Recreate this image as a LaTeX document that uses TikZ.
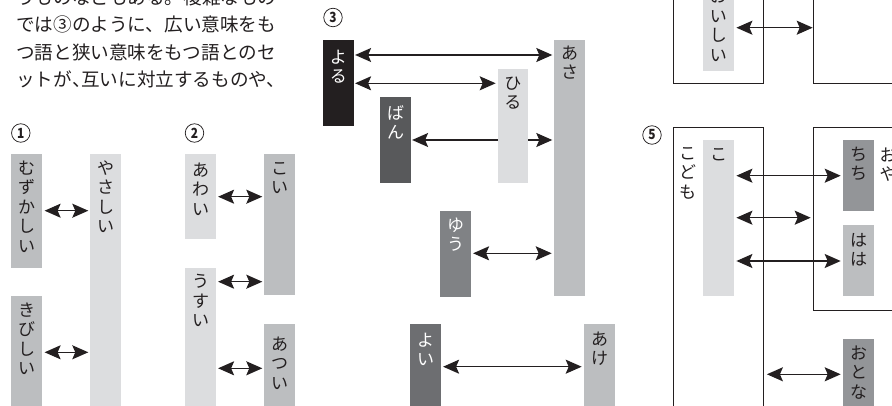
\documentclass[tikz,border=0pt]{standalone}
\usepackage{fontspec}
\setmainfont{Noto Sans CJK JP}
\usepackage{graphicx}
\usetikzlibrary{arrows.meta}
\definecolor{ink}{HTML}{231F20}
\definecolor{med}{HTML}{BCBEC0}
\definecolor{lite}{HTML}{DCDDDF}
\definecolor{dk1}{HTML}{58595B}
\definecolor{dk2}{HTML}{808285}
\definecolor{dk3}{HTML}{6D6E71}
\definecolor{dk4}{HTML}{939598}
\newcommand\vs{\rule{0pt}{15pt}}
\tikzset{
  wbox/.style={rectangle, draw=none, inner sep=0pt, anchor=north west, minimum width=30.7pt, minimum height=#1},
  vt/.style={font=\fontsize{17}{19.5}\selectfont, align=center, inner sep=0pt, anchor=north},
  tip/.tip={Stealth[length=16pt,width=14pt,inset=3pt]},
  dbl/.style={tip-tip, line width=1.4pt, draw=ink},
  frm/.style={draw=ink, line width=0.9pt},
  num/.style={circle, draw=ink, line width=0.75pt, minimum size=18.5pt, inner sep=0pt, text=ink, font=\fontsize{14}{14}\bfseries},
  body/.style={font=\fontsize{18.6}{20}\selectfont, inner sep=0pt, anchor=base west, text=ink},
}
\begin{document}
\begin{tikzpicture}[x=1pt,y=-1pt]
\useasboundingbox (0,0) rectangle (892,406);
\clip (0,0) rectangle (892,406);
\fill[white] (0,0) rectangle (892,406);

% body text
\node[body] (l1) at (16,4.6) {うものなどもある。複雑なもの};
\node[body] (l2) at (16,32) {では③のように、広い意味をも};
\node[body] (l3) at (16,59.3) {つ語と狭い意味をもつ語とのセ};
\node[body] (l4) at (16,86.6) {ットが\makebox[9.3pt][l]{、}互いに対立するものや、};

% numbers
\node[num] (n1) at (20.8,133) {\scalebox{0.85}[1]{1}};
\node[num] (n2) at (194.5,133) {\scalebox{0.85}[1]{2}};
\node[num] (n3) at (333,17.5) {\scalebox{0.85}[1]{3}};
\node[num] (n5) at (652,135) {\scalebox{0.85}[1]{5}};

% ---------- 1
\node[wbox=113.7pt, fill=med] (muzu) at (11,154) {};
\node[wbox=260pt, fill=lite] (yasa) at (90,154) {};
\node[wbox=120pt, fill=med] (kibi) at (11,296) {};
\node[vt, text=ink] (muzu-t) at ([yshift=-5pt]muzu.north) {\vs む\\ず\\か\\し\\い};
\node[vt, text=ink] (yasa-t) at ([yshift=-5pt]yasa.north) {\vs や\\さ\\し\\い};
\node[vt, text=ink] (kibi-t) at ([yshift=-5pt]kibi.north) {\vs き\\び\\し\\い};
\draw[dbl, shorten <=2.5pt, shorten >=1.7pt] (muzu.east |- 0,210.7) -- (yasa.west |- 0,210.7);
\draw[dbl, shorten <=2.5pt, shorten >=1.7pt] (kibi.east |- 0,352.3) -- (yasa.west |- 0,352.3);

% ---------- 2
\node[wbox=85.3pt, fill=lite] (awai) at (185,154) {};
\node[wbox=141.3pt, fill=med] (koi) at (264,154) {};
\node[wbox=140pt, fill=lite] (usui) at (185,268.3) {};
\node[wbox=90pt, fill=med] (atsui) at (264,324) {};
\node[vt, text=ink] (awai-t) at ([yshift=-7pt]awai.north) {\vs あ\\わ\\い};
\node[vt, text=ink] (koi-t) at ([yshift=-5pt]koi.north) {\vs こ\\い};
\node[vt, text=ink] (usui-t) at ([yshift=-4pt]usui.north) {\vs う\\す\\い};
\node[vt, text=ink] (atsui-t) at ([yshift=-11pt]atsui.north) {\vs あ\\つ\\い};
\draw[dbl, shorten <=2pt, shorten >=1.7pt] (awai.east |- 0,196.7) -- (koi.west |- 0,196.7);
\draw[dbl, shorten <=2pt, shorten >=1.7pt] (usui.east |- 0,281.7) -- (koi.west |- 0,281.7);
\draw[dbl, shorten <=2pt, shorten >=1.7pt] (usui.east |- 0,368.3) -- (atsui.west |- 0,368.3);

% ---------- 3
\node[wbox=85.7pt, fill=ink] (yoru) at (322.7,40) {};
\node[wbox=256pt, fill=med] (asa) at (554,40) {};
\node[wbox=85.4pt, fill=dk1] (ban) at (380,97.3) {};
\node[wbox=85.7pt, fill=dk2] (yuu) at (440,211) {};
\node[wbox=90pt, fill=dk3] (yoi) at (410,324) {};
\node[wbox=90pt, fill=med] (ake) at (584,324) {};
\draw[dbl, shorten <=1pt, shorten >=1.7pt] (ban.east |- 0,140) -- (asa.west |- 0,140);
\node[wbox=113.7pt, fill=lite] (hiru) at (497.3,69) {};
\node[vt, text=white] (yoru-t) at ([yshift=-8pt]yoru.north) {\vs よ\\る};
\node[vt, text=ink] (asa-t) at ([yshift=-4pt]asa.north) {\vs あ\\さ};
\node[vt, text=ink] (hiru-t) at ([yshift=-5pt]hiru.north) {\vs ひ\\る};
\node[vt, text=white] (ban-t) at ([yshift=-7pt]ban.north) {\vs ば\\ん};
\node[vt, text=white] (yuu-t) at ([yshift=-5pt]yuu.north) {\vs ゆ\\う};
\node[vt, text=white] (yoi-t) at ([yshift=-7pt]yoi.north) {\vs よ\\い};
\node[vt, text=ink] (ake-t) at ([yshift=-6pt]ake.north) {\vs あ\\け};
\draw[dbl, shorten <=1.3pt, shorten >=1.7pt] (yoru.east |- 0,55) -- (asa.west |- 0,55);
\draw[dbl, shorten <=1.3pt, shorten >=1.6pt] (yoru.east |- 0,83.3) -- (hiru.west |- 0,83.3);
\draw[dbl, shorten <=2pt, shorten >=2.3pt] (yuu.east |- 0,253.3) -- (asa.west |- 0,253.3);
\draw[dbl, shorten <=2pt, shorten >=2.3pt] (yoi.east |- 0,366.7) -- (ake.west |- 0,366.7);

% ---------- 4
\node[rectangle, frm, inner sep=0pt, anchor=north west, minimum width=90pt, minimum height=93.3pt] (f4l) at (673.3,-10) {};
\node[rectangle, frm, inner sep=0pt, anchor=north west, minimum width=100pt, minimum height=93.3pt] (f4r) at (812.7,-10) {};
\node[wbox=90.7pt, fill=lite] (oishii) at (703,-20) {};
\node[vt, text=ink] (oishii-t) at (718.35,-12.5) {\vs お\\い\\し\\い};
\draw[dbl, shorten <=2.3pt, shorten >=0pt] (oishii.east |- 0,27.7) -- (f4r.west |- 0,27.7);

% ---------- 5
\node[rectangle, frm, inner sep=0pt, anchor=north west, minimum width=90pt, minimum height=300pt] (f5l) at (673.3,126.7) {};
\node[rectangle, frm, inner sep=0pt, anchor=north west, minimum width=100pt, minimum height=183.3pt] (f5r) at (812.7,126.7) {};
\node[vt, text=ink] (kodomo) at (687.5,144) {\vs こ\\ど\\も};
\node[vt, text=ink] (oya) at (888,146) {\vs お\\や};
\node[wbox=155.7pt, fill=lite] (ko) at (703,140) {};
\node[wbox=70.7pt, fill=dk4] (chichi) at (843,140) {};
\node[wbox=70.7pt, fill=med] (haha) at (843,225) {};
\node[wbox=80pt, fill=dk4] (otona) at (843,339) {};
\node[vt, text=ink] (ko-t) at ([yshift=-5pt]ko.north) {\vs こ};
\node[vt, text=ink] (chichi-t) at ([yshift=-5pt]chichi.north) {\vs ち\\ち};
\node[vt, text=ink] (haha-t) at ([yshift=-6pt]haha.north) {\vs は\\は};
\node[vt, text=ink] (otona-t) at ([yshift=-5pt]otona.north) {\vs お\\と\\な};
\draw[dbl, shorten <=2.3pt, shorten >=2.3pt] (ko.east |- 0,175.7) -- (chichi.west |- 0,175.7);
\draw[dbl, shorten <=2.3pt, shorten >=2pt] (ko.east |- 0,217.7) -- (f5r.west |- 0,217.7);
\draw[dbl, shorten <=2.3pt, shorten >=2.3pt] (ko.east |- 0,261) -- (haha.west |- 0,261);
\draw[dbl, shorten <=2.7pt, shorten >=2.3pt] (f5l.east |- 0,374.3) -- (otona.west |- 0,374.3);
\end{tikzpicture}
\end{document}
